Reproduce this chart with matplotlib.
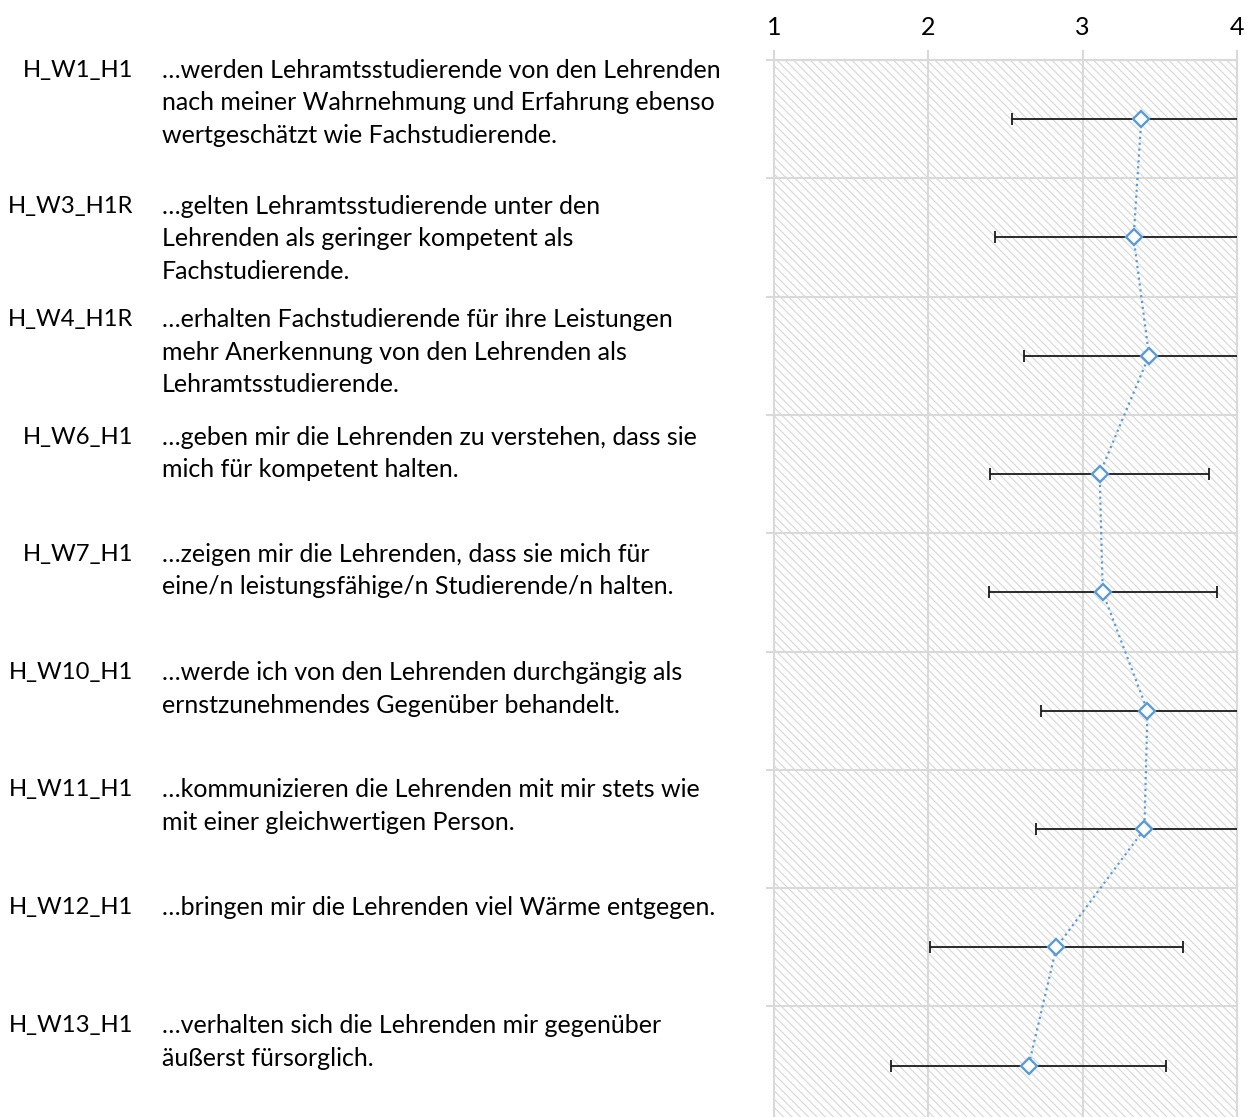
import matplotlib
matplotlib.use("Agg")
import matplotlib.pyplot as plt
from matplotlib.patches import Rectangle
import numpy as np

plt.rcParams["font.family"] = ["Lato", "DejaVu Sans"]
plt.rcParams["hatch.linewidth"] = 0.9

# item codes and the wording of each statement (wrapped as printed)
codes = ["H_W1_H1", "H_W3_H1R", "H_W4_H1R", "H_W6_H1", "H_W7_H1",
         "H_W10_H1", "H_W11_H1", "H_W12_H1", "H_W13_H1"]
statements = [
    "…werden Lehramtsstudierende von den Lehrenden\nnach meiner Wahrnehmung und Erfahrung ebenso\nwertgeschätzt wie Fachstudierende.",
    "…gelten Lehramtsstudierende unter den\nLehrenden als geringer kompetent als\nFachstudierende.",
    "…erhalten Fachstudierende für ihre Leistungen\nmehr Anerkennung von den Lehrenden als\nLehramtsstudierende.",
    "…geben mir die Lehrenden zu verstehen, dass sie\nmich für kompetent halten.",
    "…zeigen mir die Lehrenden, dass sie mich für\neine/n leistungsfähige/n Studierende/n halten.",
    "…werde ich von den Lehrenden durchgängig als\nernstzunehmendes Gegenüber behandelt.",
    "…kommunizieren die Lehrenden mit mir stets wie\nmit einer gleichwertigen Person.",
    "…bringen mir die Lehrenden viel Wärme entgegen.",
    "…verhalten sich die Lehrenden mir gegenüber\näußerst fürsorglich.",
]
means = [3.38, 3.33, 3.43, 3.11, 3.13, 3.42, 3.40, 2.83, 2.65]
sds = [0.84, 0.90, 0.81, 0.71, 0.74, 0.69, 0.70, 0.82, 0.89]
scale_ticks = [1, 2, 3, 4]

# pixel offset of the first text line above each row centre
first_line_up = [49, 31, 36, 37, 38, 38, 39, 40, 40]
line_step = 32.5
text_size = 18

W, H = 1248, 1117
fig = plt.figure(figsize=(W / 100, H / 100), dpi=100)
row_h = 118.3
n = len(codes)
ax_top = 60
ax_left, ax_right = 774, 1237
ax = fig.add_axes([ax_left / W, (H - ax_top - n * row_h) / H,
                   (ax_right - ax_left) / W, n * row_h / H])

rows = np.arange(n)
grid_col = "#d9d9d9"

# fine diagonal hatching behind the plot
ax.add_patch(Rectangle((0, 0), 1, 1, transform=ax.transAxes, fill=False,
                       hatch="\\\\\\\\", edgecolor="#dadada", lw=0, zorder=0.1))

ax.errorbar(means, rows, xerr=sds, fmt="none", ecolor="#1a1a1a",
            elinewidth=1.3, capsize=4.5, capthick=1.3, zorder=3)
ax.plot(means, rows, ls=":", color="#5b9bd5", lw=1.6, marker="D", ms=8.5,
        mfc="white", mec="#5b9bd5", mew=1.7, zorder=4)

ax.set_xlim(1, 4)
ax.set_ylim(n - 0.5, -0.5)
ax.set_xticks(scale_ticks)
ax.set_xticklabels([str(t) for t in scale_ticks])
ax.xaxis.tick_top()
ax.set_yticks(np.arange(-0.5, n, 1))
ax.set_yticklabels([])
ax.tick_params(axis="x", length=7, width=1.5, color=grid_col,
               labelsize=text_size, pad=8, labelcolor="black")
ax.tick_params(axis="y", length=6, width=1.5, color=grid_col)
ax.set_axisbelow(True)
ax.grid(True, color=grid_col, lw=1.5)
for side in ["left", "right", "top"]:
    ax.spines[side].set_color(grid_col)
    ax.spines[side].set_linewidth(1.5)
ax.spines["bottom"].set_visible(False)

for i in range(n):
    up = first_line_up[i]
    ax.annotate(codes[i], xy=(133, rows[i]), xycoords=("figure pixels", "data"),
                xytext=(0, up), textcoords="offset pixels", ha="right",
                va="center", fontsize=17.2, annotation_clip=False)
    for k, line in enumerate(statements[i].split("\n")):
        ax.annotate(line, xy=(162, rows[i]), xycoords=("figure pixels", "data"),
                    xytext=(0, up - k * line_step), textcoords="offset pixels",
                    ha="left", va="center", fontsize=text_size,
                    annotation_clip=False)

fig.savefig("out.png", dpi=100)
